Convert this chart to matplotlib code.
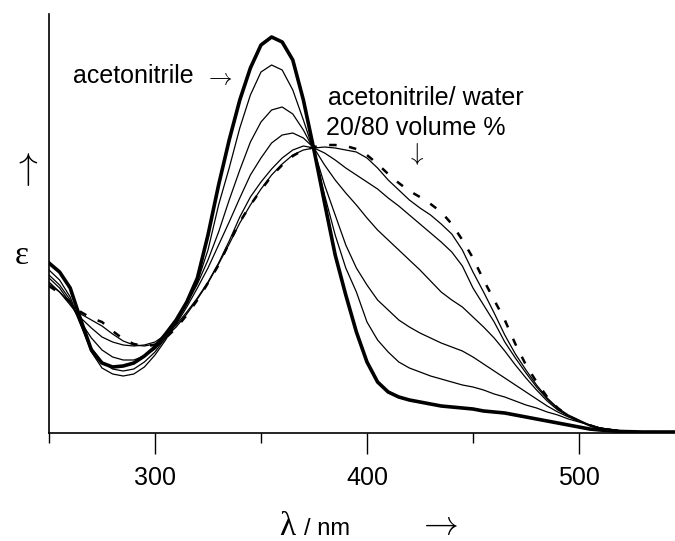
import matplotlib
matplotlib.use("Agg")
import matplotlib.pyplot as plt

plt.rcParams["mathtext.fontset"] = "cm"

# wavelength grid (nm)
wl = list(range(250, 515, 5)) + [520, 530, 545]

# epsilon, arbitrary units
eps_acn = [170, 161, 145, 113, 83, 70, 66, 67, 70, 77, 86, 99, 113, 131, 155, 198, 248, 293, 333,
           365, 388, 396, 391, 373, 333, 283, 230, 178, 138, 101, 71, 51, 41, 36, 33, 31, 29, 27,
           26, 25, 24, 22, 21, 20, 18, 16, 14, 12, 10, 8, 6, 4, 3, 1.5, 1, 1]
eps_1 = [163, 153, 136, 108, 81, 65, 59, 57, 59, 66, 78, 93, 111, 130, 151, 183, 228, 265, 305,
         338, 361, 368, 363, 343, 313, 281, 238, 198, 165, 141, 111, 93, 81, 71, 65, 61, 57, 54,
         51, 48, 46, 43, 39, 36, 32, 28, 25, 21, 18, 14, 11, 8, 5, 2, 1, 0.5]
eps_2 = [158, 148, 133, 108, 85, 71, 64, 62, 64, 71, 81, 95, 111, 129, 149, 173, 201, 233, 263,
         291, 311, 323, 326, 319, 303, 283, 248, 218, 188, 165, 148, 133, 123, 113, 106, 100, 95,
         90, 86, 82, 76, 69, 62, 55, 48, 41, 34, 27, 21, 16, 12, 8, 5, 2, 1, 0.5]
eps_3 = [155, 145, 130, 111, 95, 83, 76, 73, 73, 77, 84, 95, 109, 126, 145, 165, 188, 211, 235,
         258, 275, 290, 298, 300, 295, 285, 268, 253, 240, 228, 215, 203, 193, 183, 173, 163, 152,
         141, 133, 126, 116, 106, 95, 82, 68, 55, 43, 32, 23, 17, 12, 8, 5, 2, 1, 0.5]
eps_4 = [151, 141, 128, 115, 105, 96, 91, 88, 87, 88, 91, 98, 108, 121, 135, 151, 170, 192, 216,
         236, 251, 264, 275, 283, 287, 285, 280, 273, 265, 258, 251, 244, 235, 227, 218, 209, 200,
         191, 181, 167, 145, 128, 111, 91, 75, 60, 46, 34, 24, 17, 12, 7, 4, 2, 1, 0.5]
eps_5 = [149, 141, 130, 119, 113, 107, 99, 92, 88, 87, 89, 96, 106, 119, 134, 150, 169, 189, 210,
         228, 244, 258, 269, 278, 283, 285, 286, 285, 283, 281, 275, 265, 253, 243, 233, 225, 218,
         209, 199, 183, 161, 141, 120, 98, 79, 63, 48, 35, 25, 18, 13, 8, 5, 2, 1, 0.5]
eps_water = [147, 140, 131, 121, 115, 111, 102, 94, 89, 87, 88, 95, 105, 118, 133, 150, 168, 190,
             211, 228, 243, 257, 268, 277, 283, 286, 288, 288, 287, 284, 278, 269, 259, 250, 242,
             236, 229, 221, 209, 193, 175, 153, 133, 113, 89, 68, 51, 36, 25, 17, 12, 8, 4, 2, 1, 0.5]

W, H = 675, 541
fig = plt.figure(figsize=(W / 100, H / 100), dpi=100)
ax = fig.add_axes([49 / W, 108 / H, 626 / W, 419 / H])

for e in [eps_1, eps_2, eps_3, eps_4, eps_5]:
    ax.plot(wl, e, color="black", lw=0.9)
ax.plot(wl, eps_water, color="black", lw=1.8, linestyle=(0, (3, 5)))
ax.plot(wl, eps_acn, color="black", lw=2.6)

ax.set_xlim(250, 545.3)
ax.set_ylim(0, 419)
for s in ["top", "right"]:
    ax.spines[s].set_visible(False)
ax.spines["left"].set_linewidth(1.2)
ax.spines["bottom"].set_linewidth(1.2)
ax.set_yticks([])
ax.set_xticks([300, 400, 500])
ax.set_xticks([250, 350, 450], minor=True)
ax.tick_params(axis="x", which="major", direction="out", length=15, width=1,
               pad=9, labelsize=18)
ax.tick_params(axis="x", which="minor", direction="out", length=7, width=1)

fam = ["Liberation Sans", "DejaVu Sans"]
serif = ["Liberation Serif", "DejaVu Serif"]
for lab in ax.get_xticklabels():
    lab.set_family(fam)


def px(x, y):
    return x / W, 1 - y / H


fig.text(*px(73, 83), "acetonitrile", fontsize=18, family=fam, va="baseline")
fig.text(*px(218, 77), r"$\rightarrow$", fontsize=17, ha="center", va="center")
fig.text(*px(328, 105), "acetonitrile/ water", fontsize=18, family=fam, va="baseline")
fig.text(*px(326, 135), "20/80 volume %", fontsize=18, family=fam, va="baseline")
fig.text(*px(415, 154), r"$\downarrow$", fontsize=18, ha="center", va="center")
fig.text(*px(25, 170), r"$\uparrow$", fontsize=27, ha="center", va="center")
fig.text(*px(22, 256), "\u03b5", fontsize=24, family=serif, ha="center", va="center")
fig.text(*px(287, 535), "\u03bb", fontsize=24, family=serif, ha="center", va="baseline")
fig.text(*px(304, 535), "/ nm", fontsize=17, family=fam, va="baseline")
fig.text(*px(437, 524), r"$\rightarrow$", fontsize=25, ha="center", va="center")

fig.savefig("out.png", dpi=100)
